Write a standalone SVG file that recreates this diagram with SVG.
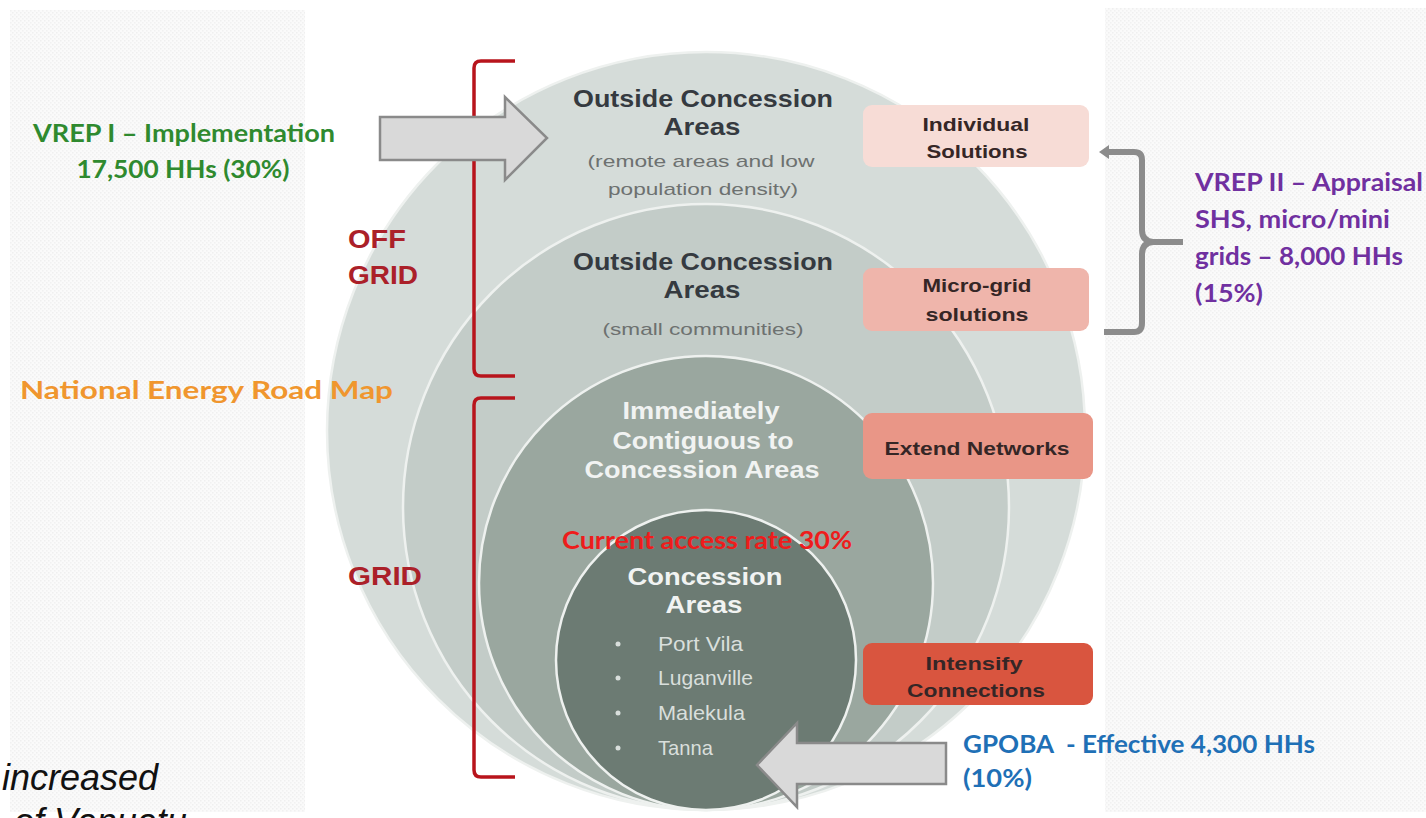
<svg xmlns="http://www.w3.org/2000/svg" width="1426" height="818" viewBox="0 0 1426 818">
  <style>
    .ring-title { font-family: "Liberation Sans", Arial, sans-serif; font-weight: 700; font-size: 24px; text-anchor: middle; }
    .dark { fill: #353a40; }
    .light { fill: #f1f3f2; }
    .sub { font-family: "Liberation Sans", Arial, sans-serif; font-size: 17px; fill: #6d7170; text-anchor: middle; }
    .bullet { font-family: "Liberation Sans", Arial, sans-serif; font-size: 21px; fill: #d9dfdc; }
    .box-text { font-family: "Liberation Sans", Arial, sans-serif; font-weight: 700; font-size: 19px; fill: #352626; text-anchor: middle; }
    .grid-label { font-family: "Liberation Sans", Arial, sans-serif; font-weight: 700; font-size: 25px; fill: #ab2029; text-anchor: middle; }
    .note { font-family: Lato, "Noto Sans", sans-serif; font-weight: 700; font-size: 24px; }
    .bracket { fill: none; stroke: #b8141c; stroke-width: 3.5; stroke-linejoin: round; }
    .ring { stroke: #eef1ef; stroke-width: 2.5; }
    .arrow { fill: #d9d9d9; stroke: #8a8a8a; stroke-width: 2.5; stroke-linejoin: miter; }
  </style>
  <defs>
    <pattern id="dots" width="4" height="4" patternUnits="userSpaceOnUse">
      <rect width="4" height="4" fill="#fafafa"/>
      <rect x="0" y="0" width="1.5" height="1.5" fill="#efefef"/>
      <rect x="2" y="2" width="1.5" height="1.5" fill="#f1f1f1"/>
    </pattern>
    <filter id="glow" x="-10%" y="-10%" width="120%" height="120%">
      <feGaussianBlur stdDeviation="3"/>
    </filter>
  </defs>

  <!-- page -->
  <rect width="1426" height="818" fill="#ffffff"/>
  <rect x="10" y="10" width="295" height="802" fill="url(#dots)"/>
  <rect x="1105" y="8" width="321" height="804" fill="url(#dots)"/>

  <!-- nested rings -->
  <g id="rings">
    <circle cx="706" cy="431" r="385" fill="#ffffff" filter="url(#glow)"/>
    <circle id="ring-outer" class="ring" cx="706" cy="431" r="379" fill="#d5dcd9"/>
    <circle id="ring-small" class="ring" cx="706" cy="507" r="303" fill="#c3ccc8"/>
    <circle id="ring-contiguous" class="ring" cx="706" cy="583" r="227" fill="#9aa79f"/>
    <circle id="ring-concession" class="ring" cx="706" cy="660" r="150" fill="#6c7b73"/>
  </g>

  <!-- ring labels -->
  <g id="outside-remote">
    <text class="ring-title dark" x="703" y="107" textLength="260" lengthAdjust="spacingAndGlyphs">Outside Concession</text>
    <text class="ring-title dark" x="702" y="135" textLength="77" lengthAdjust="spacingAndGlyphs">Areas</text>
    <text class="sub" x="701" y="167" textLength="227" lengthAdjust="spacingAndGlyphs">(remote areas and low</text>
    <text class="sub" x="703" y="195" textLength="190" lengthAdjust="spacingAndGlyphs">population density)</text>
  </g>
  <g id="outside-small">
    <text class="ring-title dark" x="703" y="270" textLength="260" lengthAdjust="spacingAndGlyphs">Outside Concession</text>
    <text class="ring-title dark" x="702" y="298" textLength="77" lengthAdjust="spacingAndGlyphs">Areas</text>
    <text class="sub" x="703" y="335" textLength="201" lengthAdjust="spacingAndGlyphs">(small communities)</text>
  </g>
  <g id="contiguous">
    <text class="ring-title light" x="701" y="419" textLength="157" lengthAdjust="spacingAndGlyphs">Immediately</text>
    <text class="ring-title light" x="703" y="449" textLength="181" lengthAdjust="spacingAndGlyphs">Contiguous to</text>
    <text class="ring-title light" x="702" y="478" textLength="235" lengthAdjust="spacingAndGlyphs">Concession Areas</text>
  </g>
  <g id="concession">
    <text class="note" x="707" y="549" fill="#ee1c1c" text-anchor="middle" font-size="25" textLength="290" lengthAdjust="spacingAndGlyphs">Current access rate 30%</text>
    <text class="ring-title light" x="705" y="585" textLength="155" lengthAdjust="spacingAndGlyphs">Concession</text>
    <text class="ring-title light" x="704" y="613" textLength="77" lengthAdjust="spacingAndGlyphs">Areas</text>
    <g fill="#d9dfdc">
      <circle cx="618" cy="644" r="2.5"/>
      <circle cx="618" cy="678" r="2.5"/>
      <circle cx="618" cy="713" r="2.5"/>
      <circle cx="618" cy="748" r="2.5"/>
    </g>
    <text class="bullet" x="658" y="651" textLength="85" lengthAdjust="spacingAndGlyphs">Port Vila</text>
    <text class="bullet" x="658" y="685" textLength="95" lengthAdjust="spacingAndGlyphs">Luganville</text>
    <text class="bullet" x="658" y="720" textLength="87" lengthAdjust="spacingAndGlyphs">Malekula</text>
    <text class="bullet" x="658" y="755" textLength="55" lengthAdjust="spacingAndGlyphs">Tanna</text>
  </g>

  <!-- solution boxes -->
  <g id="box-individual">
    <rect x="863" y="105" width="226" height="62" rx="9" fill="#f7dcd6"/>
    <text class="box-text" x="976" y="131" textLength="107" lengthAdjust="spacingAndGlyphs">Individual</text>
    <text class="box-text" x="977" y="158" textLength="101" lengthAdjust="spacingAndGlyphs">Solutions</text>
  </g>
  <g id="box-microgrid">
    <rect x="863" y="268" width="226" height="63" rx="9" fill="#efb5ab"/>
    <text class="box-text" x="977" y="292" textLength="109" lengthAdjust="spacingAndGlyphs">Micro-grid</text>
    <text class="box-text" x="977" y="321" textLength="103" lengthAdjust="spacingAndGlyphs">solutions</text>
  </g>
  <g id="box-extend">
    <rect x="863" y="413" width="230" height="66" rx="9" fill="#e99687"/>
    <text class="box-text" x="977" y="455" textLength="185" lengthAdjust="spacingAndGlyphs">Extend Networks</text>
  </g>
  <g id="box-intensify">
    <rect x="863" y="643" width="230" height="62" rx="9" fill="#d9553f"/>
    <text class="box-text" x="974" y="670" textLength="97" lengthAdjust="spacingAndGlyphs">Intensify</text>
    <text class="box-text" x="976" y="697" textLength="138" lengthAdjust="spacingAndGlyphs">Connections</text>
  </g>

  <!-- grid / off-grid labels -->
  <g id="off-grid">
    <text class="grid-label" x="377" y="248" textLength="58" lengthAdjust="spacingAndGlyphs">OFF</text>
    <text class="grid-label" x="383" y="284" textLength="70" lengthAdjust="spacingAndGlyphs">GRID</text>
  </g>
  <g id="grid">
    <text class="grid-label" x="385" y="585" textLength="74" lengthAdjust="spacingAndGlyphs">GRID</text>
  </g>

  <!-- programme notes -->
  <g id="vrep1">
    <text class="note" x="184" y="142" fill="#2f8a2f" text-anchor="middle" textLength="302" lengthAdjust="spacingAndGlyphs">VREP I – Implementation</text>
    <text class="note" x="183" y="178" fill="#2f8a2f" text-anchor="middle" textLength="213" lengthAdjust="spacingAndGlyphs">17,500 HHs (30%)</text>
  </g>
  <g id="roadmap">
    <text class="note" x="20" y="399" fill="#f0962e" font-size="29" textLength="373" lengthAdjust="spacingAndGlyphs">National Energy Road Map</text>
  </g>
  <g id="vrep2">
    <text class="note" x="1195" y="191" fill="#7030a0" textLength="228" lengthAdjust="spacingAndGlyphs">VREP II – Appraisal</text>
    <text class="note" x="1195" y="228" fill="#7030a0" textLength="195" lengthAdjust="spacingAndGlyphs">SHS, micro/mini</text>
    <text class="note" x="1195" y="265" fill="#7030a0" textLength="208" lengthAdjust="spacingAndGlyphs">grids – 8,000 HHs</text>
    <text class="note" x="1195" y="302" fill="#7030a0" textLength="68" lengthAdjust="spacingAndGlyphs">(15%)</text>
  </g>
  <g id="gpoba">
    <text class="note" x="963" y="753" fill="#1f70b6" font-size="25" textLength="352" lengthAdjust="spacingAndGlyphs" xml:space="preserve">GPOBA  - Effective 4,300 HHs</text>
    <text class="note" x="963" y="787" fill="#1f70b6" font-size="25" textLength="69" lengthAdjust="spacingAndGlyphs">(10%)</text>
  </g>

  <!-- connectors: brackets and arrows -->
  <g id="connectors">
    <path class="bracket" d="M515 61 H481 Q474 61 474 68 V369 Q474 376 481 376 H515"/>
    <path class="bracket" d="M515 398 H481 Q474 398 474 405 V770 Q474 777 481 777 H515"/>
    <path d="M1106 152 H1134 Q1142 152 1142 160 V230 Q1142 241 1153 242 H1183 M1153 242 Q1142 243 1142 254 V323 Q1142 332 1134 332 H1104" fill="none" stroke="#8c8c8c" stroke-width="6"/>
    <path d="M1099 152 L1109 145 L1109 159 Z" fill="#8c8c8c"/>
    <polygon class="arrow" points="380,117 505,117 505,97 547,138 505,180 505,160 380,160"/>
    <polygon class="arrow" points="757,765 797,723 797,743 946,743 946,784 797,784 797,807"/>
  </g>

  <!-- caption fragment at the lower edge -->
  <g id="caption" font-family="'Liberation Sans', Arial, sans-serif" font-style="italic" font-size="36" fill="#111111">
    <text x="2" y="790">increased</text>
    <text x="14" y="834">of Vanuatu</text>
  </g>
</svg>
